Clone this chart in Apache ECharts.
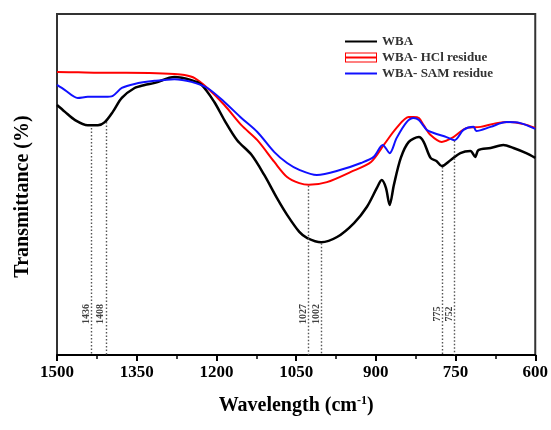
<!DOCTYPE html>
<html>
<head>
<meta charset="utf-8">
<script src="https://cdn.jsdelivr.net/npm/echarts@6/dist/echarts.min.js"></script>
<style>html,body{margin:0;padding:0;background:#fff}#c{width:551px;height:430px}</style>
</head>
<body>
<div id="c"></div>
<script>
// ---- data (wavenumber cm-1, transmittance arbitrary %) ----
const xTicks = [1500, 1350, 1200, 1050, 900, 750, 600];
const seriesNames = ['WBA', 'WBA- HCl residue', 'WBA- SAM residue'];
const wba = [
  [1500,73.3],[1485,71.3],[1466,68.9],[1442,67.4],[1423,67.4],[1410,68.3],[1395,71.3],
  [1378,75.4],[1354,78.3],[1335,79.2],[1316,79.8],[1279,81.5],[1247,80.6],[1228,79.2],
  [1204,74.2],[1185,68.9],[1161,63.0],[1134,58.7],[1110,52.8],[1086,46.0],[1067,41.1],
  [1044,36.1],[1029,34.3],[1003,33.1],[973,34.6],[941,38.7],[917,43.4],[898,49.0],
  [889,51.3],[881,49.0],[874,44.0],[866,49.9],[853,57.8],[838,62.5],[819,63.9],
  [810,62.5],[797,57.8],[786,56.9],[776,55.4],[759,57.2],[741,59.2],[722,59.8],
  [713,58.1],[707,60.1],[684,60.7],[660,61.6],[641,60.7],[617,59.2],[600,57.8]
];
const hcl = [
  [1500,83.0],[1460,82.9],[1419,82.8],[1370,82.8],[1326,82.7],[1279,82.4],[1260,82.1],
  [1241,81.2],[1217,78.3],[1185,73.3],[1153,67.4],[1123,63.0],[1091,56.6],[1067,52.2],
  [1044,50.4],[1026,49.9],[992,50.7],[947,53.7],[909,56.6],[885,61.6],[861,66.6],
  [838,69.8],[829,69.8],[819,69.5],[810,67.4],[797,64.5],[776,62.5],[754,63.9],
  [729,66.6],[703,66.9],[673,68.0],[647,68.3],[622,67.7],[600,66.6]
];
const sam = [
  [1500,79.2],[1485,77.7],[1461,75.4],[1442,75.7],[1410,75.7],[1395,76.0],[1378,78.3],
  [1354,79.5],[1316,80.4],[1279,80.9],[1247,80.1],[1217,78.3],[1185,74.2],[1153,69.5],
  [1123,65.4],[1091,59.5],[1067,56.3],[1044,54.3],[1011,52.8],[966,54.3],[928,56.3],
  [904,58.1],[887,61.6],[874,59.2],[861,63.6],[842,68.3],[829,69.5],[819,68.9],
  [804,66.0],[791,65.1],[767,63.9],[752,63.0],[735,66.0],[716,66.9],[711,65.7],
  [684,66.9],[654,68.3],[628,68.0],[600,66.3]
];
const peakWn = [1436, 1408, 1027, 1002, 775, 752];
const peakTop = [66.6, 68.3, 49.6, 32.8, 55.1, 62.8];

// ---- layout / style ----
const labelLevel = 12;
const serif = '"Liberation Serif","Times New Roman",serif';
const colors = ['#000000', '#ff0000', '#1010ff'];
const redIcon = 'path://M0,0L32,0L32,10L0,10Z M1,1L1,4L31,4L31,1Z M1,6L1,9L31,9L31,6Z';

const chart = echarts.init(document.getElementById('c'), null, {renderer: 'canvas'});
chart.setOption({
  animation: false,
  backgroundColor: '#fff',
  grid: {left: 57, right: 14, top: 14, bottom: 75, show: true, borderColor: '#333', borderWidth: 2},
  legend: {
    orient: 'vertical', left: 340, top: 30, itemWidth: 32, itemHeight: 10, itemGap: 3,
    textStyle: {fontFamily: serif, fontWeight: 'bold', fontSize: 13, color: '#333'},
    data: [
      {name: seriesNames[0], icon: 'path://M0,4L32,4L32,6L0,6Z'},
      {name: seriesNames[1], icon: redIcon},
      {name: seriesNames[2], icon: 'path://M0,4L32,4L32,6L0,6Z'}
    ]
  },
  xAxis: {
    type: 'value', inverse: true, min: 600, max: 1500, interval: 150,
    name: '{a|Wavelength (cm}{b|-1}{a|)}', nameLocation: 'middle', nameGap: 40,
    nameTextStyle: {
      rich: {
        a: {fontFamily: serif, fontWeight: 'bold', fontSize: 20, color: '#000'},
        b: {fontFamily: serif, fontWeight: 'bold', fontSize: 12, color: '#000', verticalAlign: 'top', padding: [0, 0, 10, 0]}
      }
    },
    axisLine: {show: true, onZero: false, lineStyle: {color: '#000', width: 2}},
    axisTick: {show: true, inside: false, length: 6, lineStyle: {color: '#000', width: 2}},
    minorTick: {show: true, splitNumber: 2, length: 4, lineStyle: {color: '#000', width: 1.5}},
    axisLabel: {fontFamily: serif, fontWeight: 'bold', fontSize: 17, color: '#000', margin: 9,
      formatter: v => String(v)},
    splitLine: {show: false}
  },
  yAxis: {
    type: 'value', min: 0, max: 100,
    name: 'Transmittance (%)', nameLocation: 'middle', nameGap: 24,
    nameTextStyle: {fontFamily: serif, fontWeight: 'bold', fontSize: 20, color: '#000', padding: [0, 24, 0, 0]},
    axisLine: {show: false}, axisTick: {show: false}, axisLabel: {show: false}, splitLine: {show: false}
  },
  series: [
    {
      name: seriesNames[0], type: 'line', data: wba, showSymbol: false, smooth: 0.3,
      lineStyle: {color: colors[0], width: 2.5}, itemStyle: {color: colors[0]}, z: 3,
      markLine: {
        silent: true, symbol: 'none', label: {show: false},
        lineStyle: {color: '#555', width: 1.4, type: [1.5, 2]},
        data: peakWn.map((w, i) => [{coord: [w, peakTop[i]]}, {coord: [w, 0]}])
      }
    },
    {
      name: seriesNames[1], type: 'line', data: hcl, showSymbol: false, smooth: 0.3,
      lineStyle: {color: colors[1], width: 2}, itemStyle: {color: colors[1]}, z: 2
    },
    {
      name: seriesNames[2], type: 'line', data: sam, showSymbol: false, smooth: 0.3,
      lineStyle: {color: colors[2], width: 2}, itemStyle: {color: colors[2]}, z: 4
    },
    {
      type: 'scatter', symbolSize: 0, silent: true,
      data: peakWn.map(w => [w, labelLevel]),
      label: {
        show: true, position: 'inside', rotate: 90, offset: [0, -5],
        formatter: p => String(p.value[0]),
        fontFamily: serif, fontSize: 10, fontWeight: 'bold', color: '#111'
      }
    }
  ]
});
</script>
</body>
</html>
